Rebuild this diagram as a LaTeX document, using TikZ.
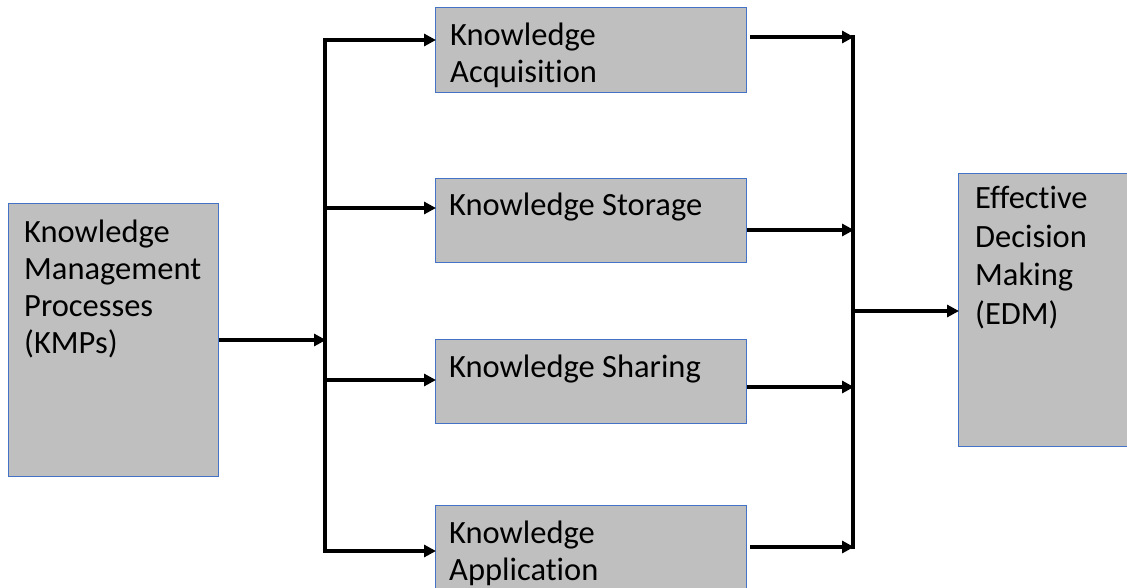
\documentclass[tikz,border=0pt]{standalone}
\usepackage{fontspec}
\setmainfont[Ligatures=NoCommon]{Carlito}
\usetikzlibrary{arrows.meta}
\definecolor{boxfill}{HTML}{BFBFBF}
\definecolor{boxline}{HTML}{4472C4}
\tikzset{
  box/.style={draw=boxline, line width=1.2pt, fill=boxfill, anchor=north west, inner sep=0pt},
  % labels are placed by the baseline of their last line
  lbl/.style={anchor=base west, inner sep=0pt, align=left, font=\fontsize{32.5}{37}\selectfont},
  wire/.style={line width=3.6pt, line cap=rect},
  arr/.style={line width=3.6pt, -{Triangle[length=12pt,width=12pt]}, shorten >=-1pt}
}
\begin{document}
\begin{tikzpicture}[x=1pt,y=-1pt]
\clip (0,0) rectangle (1127,587);
\fill[white] (0,0) rectangle (1127,587);

% boxes
\node[box, minimum width=210pt, minimum height=273pt] (kmp) at (8,203) {};
\node[box, minimum width=311pt, minimum height=85pt] (acq) at (435,7) {};
\node[box, minimum width=311pt, minimum height=84pt] (sto) at (435,178) {};
\node[box, minimum width=311pt, minimum height=84pt] (sha) at (435,339) {};
\node[box, minimum width=311pt, minimum height=120pt] (app) at (435,505) {};
\node[box, minimum width=180pt, minimum height=273pt] (edm) at (958,173) {};

% labels
\node[lbl] (kmpt) at (24,353) {Knowledge\\Management\\Processes\\(KMPs)};
\node[lbl] (acqt) at (450,82) {Knowledge\\Acquisition};
\node[lbl] (stot) at (449,215) {Knowledge Storage};
\node[lbl] (shat) at (449,377) {Knowledge Sharing};
\node[lbl] (appt) at (449,580) {Knowledge\\Application};
\node[lbl, font=\fontsize{32.5}{38.5}\selectfont] (edmt) at (975,324) {Effective\\Decision\\Making\\(EDM)};

% junction points on the two buses
\coordinate (lin) at (325,340);
\coordinate (l1) at (325,40);
\coordinate (l2) at (325,208);
\coordinate (l3) at (325,380);
\coordinate (l4) at (325,551);
\coordinate (r1) at (853,37);
\coordinate (r2) at (853,230);
\coordinate (r3) at (853,387);
\coordinate (r4) at (853,547);
\coordinate (rout) at (853,311);

% buses
\draw[wire] (l1) -- (l4);
\draw[wire] (r1) -- (r4);

% KMPs into the left bus
\draw[arr] (kmp.east |- lin) -- (lin);

% left bus into the four processes
\draw[arr] (l1) -- (acq.west |- l1);
\draw[arr] (l2) -- (sto.west |- l2);
\draw[arr] (l3) -- (sha.west |- l3);
\draw[arr] (l4) -- (app.west |- l4);

% the four processes into the right bus
\draw[arr] ([xshift=3pt]acq.east |- r1) -- (r1);
\draw[arr] (sto.east |- r2) -- (r2);
\draw[arr] (sha.east |- r3) -- (r3);
\draw[arr] ([xshift=3pt]app.east |- r4) -- (r4);

% right bus into EDM
\draw[arr] (rout) -- (edm.west |- rout);
\end{tikzpicture}
\end{document}
